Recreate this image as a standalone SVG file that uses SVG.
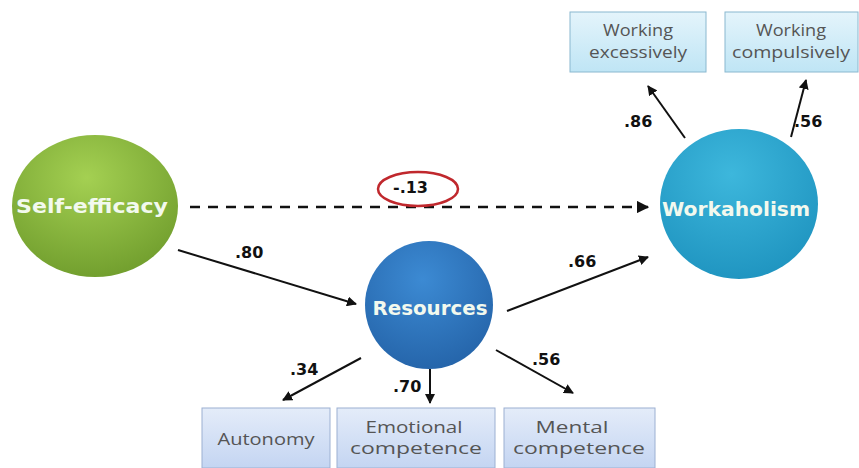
<svg xmlns="http://www.w3.org/2000/svg" width="859" height="468" viewBox="0 0 859 468">
  <defs>
    <radialGradient id="gGreen" cx="0.45" cy="0.3" r="0.75">
      <stop offset="0" stop-color="#a4d052"/>
      <stop offset="1" stop-color="#6f9c2c"/>
    </radialGradient>
    <radialGradient id="gCyan" cx="0.45" cy="0.3" r="0.75">
      <stop offset="0" stop-color="#3db7dc"/>
      <stop offset="1" stop-color="#1e93bf"/>
    </radialGradient>
    <radialGradient id="gBlue" cx="0.45" cy="0.3" r="0.75">
      <stop offset="0" stop-color="#3c8ad3"/>
      <stop offset="1" stop-color="#2463a8"/>
    </radialGradient>
    <linearGradient id="gBoxTop" x1="0" y1="0" x2="0" y2="1">
      <stop offset="0" stop-color="#e4f4fb"/>
      <stop offset="1" stop-color="#bfe5f5"/>
    </linearGradient>
    <linearGradient id="gBoxBot" x1="0" y1="0" x2="0" y2="1">
      <stop offset="0" stop-color="#e4ecf9"/>
      <stop offset="1" stop-color="#c4d5f2"/>
    </linearGradient>
    <marker id="arr" viewBox="0 0 10 10" refX="9" refY="5" markerWidth="5" markerHeight="5" orient="auto">
      <path d="M0,0 L10,5 L0,10 z" fill="#111"/>
    </marker>
  </defs>
  <style>
    .edge { stroke: #111; stroke-width: 2; fill: none; marker-end: url(#arr); }
    .dash { stroke-dasharray: 10 8; stroke-width: 2.5; }
    .coef { font-family: "DejaVu Sans", "Liberation Sans", sans-serif; font-weight: bold; font-size: 16px; fill: #111; }
    .big { font-family: "DejaVu Sans", "Liberation Sans", sans-serif; font-weight: bold; font-size: 20px; fill: #f2f9ee; text-anchor: middle; }
    .boxT { stroke: #8ab8cf; stroke-width: 1; fill: url(#gBoxTop); }
    .boxB { stroke: #9cb0d2; stroke-width: 1; fill: url(#gBoxBot); }
    .lbl { font-family: "Open Sans", "Liberation Sans", sans-serif; font-size: 16px; fill: #555; text-anchor: middle; }
    .lblB { font-size: 17px; }
  </style>
  <rect width="859" height="468" fill="#ffffff"/>

  <!-- connectors -->
  <g id="connectors">
    <line class="edge dash" x1="190" y1="207" x2="648" y2="207"/>
    <line class="edge" x1="178" y1="250" x2="356" y2="304"/>
    <line class="edge" x1="507" y1="311" x2="648" y2="257"/>
    <line class="edge" x1="361" y1="358" x2="283" y2="400"/>
    <line class="edge" x1="430" y1="369" x2="430" y2="403"/>
    <line class="edge" x1="496" y1="350" x2="573" y2="393"/>
    <line class="edge" x1="685" y1="138" x2="648" y2="86"/>
    <line class="edge" x1="791" y1="137" x2="806" y2="80"/>
  </g>

  <!-- path coefficients -->
  <g id="coefficients">
    <text class="coef" x="235" y="258">.80</text>
    <text class="coef" x="568" y="267">.66</text>
    <text class="coef" x="290" y="375">.34</text>
    <text class="coef" x="393" y="392">.70</text>
    <text class="coef" x="532" y="365">.56</text>
    <text class="coef" x="624" y="127">.86</text>
    <text class="coef" x="794" y="127">.56</text>
    <text class="coef" x="393" y="193">-.13</text>
    <ellipse cx="418" cy="189" rx="40" ry="17" fill="none" stroke="#c0282d" stroke-width="2.5"/>
  </g>

  <g id="self-efficacy">
    <ellipse cx="95" cy="206" rx="83" ry="71" fill="url(#gGreen)"/>
    <text class="big" x="92" y="213" textLength="152" lengthAdjust="spacingAndGlyphs">Self-efficacy</text>
  </g>

  <g id="resources">
    <circle cx="429" cy="305" r="64" fill="url(#gBlue)"/>
    <text class="big" x="430" y="315" textLength="115" lengthAdjust="spacingAndGlyphs">Resources</text>
  </g>

  <g id="workaholism">
    <ellipse cx="739" cy="204" rx="79" ry="75" fill="url(#gCyan)"/>
    <text class="big" x="736" y="216" textLength="148" lengthAdjust="spacingAndGlyphs">Workaholism</text>
  </g>

  <g id="working-excessively">
    <rect class="boxT" x="570" y="12" width="136" height="60"/>
    <text class="lbl" x="638" y="36" textLength="70" lengthAdjust="spacingAndGlyphs">Working</text>
    <text class="lbl" x="638" y="58" textLength="98" lengthAdjust="spacingAndGlyphs">excessively</text>
  </g>

  <g id="working-compulsively">
    <rect class="boxT" x="725" y="12" width="133" height="60"/>
    <text class="lbl" x="791" y="36" textLength="70" lengthAdjust="spacingAndGlyphs">Working</text>
    <text class="lbl" x="791" y="58" textLength="118" lengthAdjust="spacingAndGlyphs">compulsively</text>
  </g>

  <g id="autonomy">
    <rect class="boxB" x="202" y="408" width="128" height="60"/>
    <text class="lbl lblB" x="266" y="445" textLength="97" lengthAdjust="spacingAndGlyphs">Autonomy</text>
  </g>

  <g id="emotional-competence">
    <rect class="boxB" x="337" y="408" width="158" height="60"/>
    <text class="lbl lblB" x="414" y="433" textLength="97" lengthAdjust="spacingAndGlyphs">Emotional</text>
    <text class="lbl lblB" x="416" y="454" textLength="132" lengthAdjust="spacingAndGlyphs">competence</text>
  </g>

  <g id="mental-competence">
    <rect class="boxB" x="504" y="408" width="151" height="60"/>
    <text class="lbl lblB" x="572" y="433" textLength="73" lengthAdjust="spacingAndGlyphs">Mental</text>
    <text class="lbl lblB" x="579" y="454" textLength="132" lengthAdjust="spacingAndGlyphs">competence</text>
  </g>
</svg>
